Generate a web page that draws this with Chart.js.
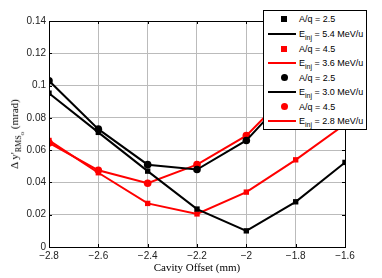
<!DOCTYPE html>
<html>
<head>
<meta charset="utf-8">
<script src="https://cdn.jsdelivr.net/npm/chart.js@4"></script>
<style>
  body { margin: 0; background: #fff; }
  #wrap { position: relative; width: 382px; height: 278px; }
  #ytitle {
    position: absolute; left: 17px; top: 134px;
    transform: translate(-50%, -50%) rotate(-90deg);
    font: 11px "Liberation Serif", serif; white-space: nowrap; color: #000;
  }
  #ytitle sub { font-size: 8px; }
  #ytitle sub sub { font-size: 7px; }
  #legend {
    position: absolute; left: 263px; top: 10px; width: 102px; height: 118px;
    border: 1px solid #000; background: #fff;
    font: 9px "Liberation Sans", Arial, sans-serif; color: #000;
  }
  .row { position: absolute; left: 0; height: 14px; line-height: 14px; }
  .row .txt { position: absolute; left: 35px; white-space: nowrap; }
  .row .txt sub { font-size: 7px; vertical-align: -3px; line-height: 0; }
  .mk { position: absolute; left: 17px; top: 4px; width: 6px; height: 6px; }
  .ln { position: absolute; left: 4px; top: 6px; width: 28px; height: 2px; }
</style>
</head>
<body>
<div id="wrap">
  <canvas id="chart" width="382" height="278"></canvas>
  <div id="ytitle">Δ y'<sub>RMS<sub>o</sub></sub> (mrad)</div>
  <div id="legend"></div>
</div>
<script>
// cavity offset (mm)
var offsets = [-2.8, -2.6, -2.4, -2.2, -2.0, -1.8, -1.6];
var yTicks = [0, 0.02, 0.04, 0.06, 0.08, 0.1, 0.12, 0.14];

// Δy' RMS (mrad)
var sq25_54 = [0.0953, 0.071, 0.047, 0.0235, 0.010, 0.028, 0.0524];
var sq45_36 = [0.066, 0.046, 0.027, 0.0205, 0.034, 0.054, 0.076];
var ci25_30 = [0.103, 0.073, 0.051, 0.048, 0.066, 0.099, 0.13];
var ci45_28 = [0.0645, 0.0475, 0.0395, 0.051, 0.069, 0.100, 0.13];

var legendRows = [
  { marker: "rect", color: "#000", text: "A/q = 2.5" },
  { line: true, color: "#000", text: "E<sub>inj</sub> = 5.4 MeV/u" },
  { marker: "rect", color: "#ff0000", text: "A/q = 4.5" },
  { line: true, color: "#ff0000", text: "E<sub>inj</sub> = 3.6 MeV/u" },
  { marker: "circle", color: "#000", text: "A/q = 2.5" },
  { line: true, color: "#000", text: "E<sub>inj</sub> = 3.0 MeV/u" },
  { marker: "circle", color: "#ff0000", text: "A/q = 4.5" },
  { line: true, color: "#ff0000", text: "E<sub>inj</sub> = 2.8 MeV/u" }
];

function pts(vals) {
  return vals.map(function(v, i) { return { x: offsets[i], y: v }; });
}

function series(vals, color, style) {
  return {
    data: pts(vals),
    borderColor: color,
    backgroundColor: color,
    borderWidth: 2,
    pointStyle: style,
    pointRadius: 3.8,
    pointBorderWidth: 0,
    tension: 0
  };
}

function fmt(v) {
  var s = String(Math.round(v * 100) / 100);
  return s.replace("-", "\u2212");
}

// box around plot area + inward tick marks
var framePlugin = {
  id: "frame",
  afterDatasetsDraw: function(chart) {
    var a = chart.chartArea, c = chart.ctx;
    var xs = chart.scales.x, ys = chart.scales.y;
    c.save();
    c.strokeStyle = "#000";
    c.lineWidth = 1;
    c.beginPath();
    offsets.forEach(function(v) {
      var px = Math.round(xs.getPixelForValue(v)) + 0.5;
      c.moveTo(px, a.bottom); c.lineTo(px, a.bottom - 3);
      c.moveTo(px, a.top); c.lineTo(px, a.top + 3);
    });
    yTicks.forEach(function(v) {
      var py = Math.round(ys.getPixelForValue(v)) + 0.5;
      c.moveTo(a.left, py); c.lineTo(a.left + 3, py);
      c.moveTo(a.right, py); c.lineTo(a.right - 3, py);
    });
    c.stroke();
    c.strokeRect(Math.round(a.left) + 0.5, Math.round(a.top) + 0.5,
      Math.round(a.right - a.left), Math.round(a.bottom - a.top));
    c.restore();
  }
};

new Chart(document.getElementById("chart"), {
  type: "line",
  data: {
    datasets: [
      series(sq25_54, "#000", "rect"),
      series(sq45_36, "#ff0000", "rect"),
      series(ci25_30, "#000", "circle"),
      series(ci45_28, "#ff0000", "circle")
    ]
  },
  options: {
    responsive: false,
    animation: false,
    layout: { padding: { top: 21, right: 37, left: 0, bottom: 0 } },
    plugins: { legend: { display: false }, tooltip: { enabled: false } },
    scales: {
      x: {
        type: "linear", min: -2.8, max: -1.6,
        afterBuildTicks: function(s) { s.ticks = offsets.map(function(v) { return { value: v }; }); },
        afterFit: function(s) { s.height = 31; },
        grid: { color: "#bbb", borderDash: [1, 2], drawTicks: false },
        border: { display: false },
        ticks: { callback: fmt, color: "#222", padding: 3, maxRotation: 0,
          font: { family: "Liberation Sans", size: 10 } },
        title: { display: true, text: "Cavity Offset (mm)", color: "#000",
          padding: { top: 0, bottom: 3 },
          font: { family: "Liberation Serif", size: 11 } }
      },
      y: {
        min: 0, max: 0.14,
        afterBuildTicks: function(s) { s.ticks = yTicks.map(function(v) { return { value: v }; }); },
        afterFit: function(s) { s.width = 49; },
        grid: { color: "#bbb", borderDash: [1, 2], drawTicks: false },
        border: { display: false },
        ticks: { callback: fmt, color: "#222", padding: 3,
          font: { family: "Liberation Sans", size: 10 } }
      }
    }
  },
  plugins: [framePlugin]
});

// legend overlay
var lg = document.getElementById("legend");
var rowY = [1, 16, 31, 45, 60, 74, 89, 103];
legendRows.forEach(function(r, i) {
  var d = document.createElement("div");
  d.className = "row";
  d.style.top = rowY[i] + "px";
  var html = "";
  if (r.line) {
    html += '<div class="ln" style="background:' + r.color + '"></div>';
  } else {
    html += '<div class="mk" style="background:' + r.color +
      (r.marker === "circle" ? ';border-radius:50%;width:7px;height:7px;top:3px' : '') + '"></div>';
  }
  html += '<span class="txt">' + r.text + '</span>';
  d.innerHTML = html;
  lg.appendChild(d);
});
</script>
</body>
</html>
